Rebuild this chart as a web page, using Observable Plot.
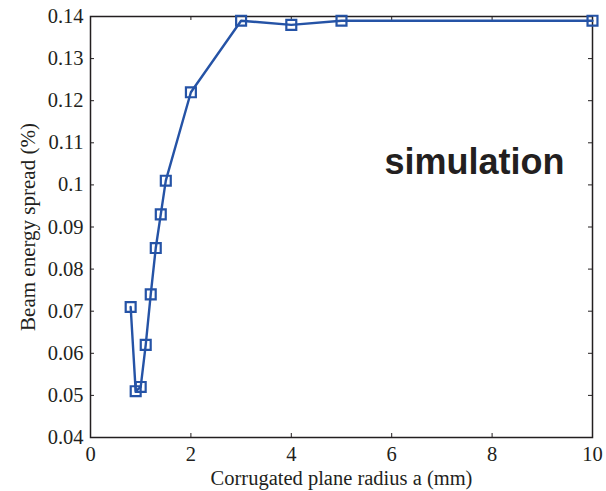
<!DOCTYPE html>
<html>
<head>
<meta charset="utf-8">
<script src="https://cdn.jsdelivr.net/npm/d3@7"></script>
<script src="https://cdn.jsdelivr.net/npm/@observablehq/plot@0.6"></script>
<style>
  html, body { margin: 0; padding: 0; background: #fff; }
</style>
</head>
<body>
<div id="chart"></div>
<script>
const radius = [0.8, 0.9, 1.0, 1.1, 1.2, 1.3, 1.4, 1.5, 2, 3, 4, 5, 10];
const spread = [0.071, 0.051, 0.052, 0.062, 0.074, 0.085, 0.093, 0.101, 0.122, 0.139, 0.138, 0.139, 0.139];
const xTicks = [0, 2, 4, 6, 8, 10];
const yTicks = [0.04, 0.05, 0.06, 0.07, 0.08, 0.09, 0.1, 0.11, 0.12, 0.13, 0.14];
const annotation = ["simulation"];
const xLabel = "Corrugated plane radius a (mm)";
const yLabel = "Beam energy spread (%)";

const data = radius.map((r, i) => ({radius: r, spread: spread[i]}));

const W = 606, H = 491, mL = 90, mR = 14, mT = 16, mB = 54;
const pw = W - mL - mR, ph = H - mT - mB;
const ink = "#231f20";
const blue = "#2553a6";
const tk = 4;

const chart = Plot.plot({
  width: W, height: H,
  marginLeft: mL, marginRight: mR, marginTop: mT, marginBottom: mB,
  x: {domain: [0, 10]},
  y: {domain: [0.04, 0.14]},
  style: {fontFamily: "'Liberation Serif', 'Times New Roman', serif", fontSize: "20.5px", color: ink, background: "#fff", overflow: "visible"},
  marks: [
    Plot.axisX({ticks: xTicks, tickSize: 0, tickPadding: 9, tickFormat: d => String(d), fontSize: 20.5, label: null}),
    Plot.axisX({ticks: [], tickSize: 0, label: xLabel, labelAnchor: "center", labelArrow: "none", labelOffset: 47, fontSize: 20.5}),
    Plot.axisY({ticks: yTicks, tickSize: 0, tickPadding: 7, tickFormat: d => String(+d.toFixed(2)), fontSize: 20.5, label: null}),
    Plot.axisY({ticks: [], tickSize: 0, label: yLabel, labelAnchor: "center", labelArrow: "none", labelOffset: 70, fontSize: 21}),
    Plot.tickX(xTicks, {x: d => d, insetTop: ph - tk, stroke: ink, strokeWidth: 1}),
    Plot.tickX(xTicks, {x: d => d, insetBottom: ph - tk, stroke: ink, strokeWidth: 1}),
    Plot.tickY(yTicks, {y: d => d, insetRight: pw - tk, stroke: ink, strokeWidth: 1}),
    Plot.tickY(yTicks, {y: d => d, insetLeft: pw - tk, stroke: ink, strokeWidth: 1}),
    Plot.frame({stroke: ink, strokeWidth: 1.5}),
    Plot.line(data, {x: "radius", y: "spread", stroke: blue, strokeWidth: 2.4}),
    Plot.dot(data, {x: "radius", y: "spread", symbol: "square", r: 5.6, stroke: blue, strokeWidth: 2.2, fill: "none"}),
    Plot.text(annotation, {text: d => d, frameAnchor: "top-right", textAnchor: "end", lineAnchor: "bottom",
      dx: -28, dy: 157, fontFamily: "'Liberation Sans', Arial, sans-serif", fontWeight: "bold", fontSize: 36, fill: ink})
  ]
});
document.getElementById("chart").appendChild(chart);
</script>
</body>
</html>
